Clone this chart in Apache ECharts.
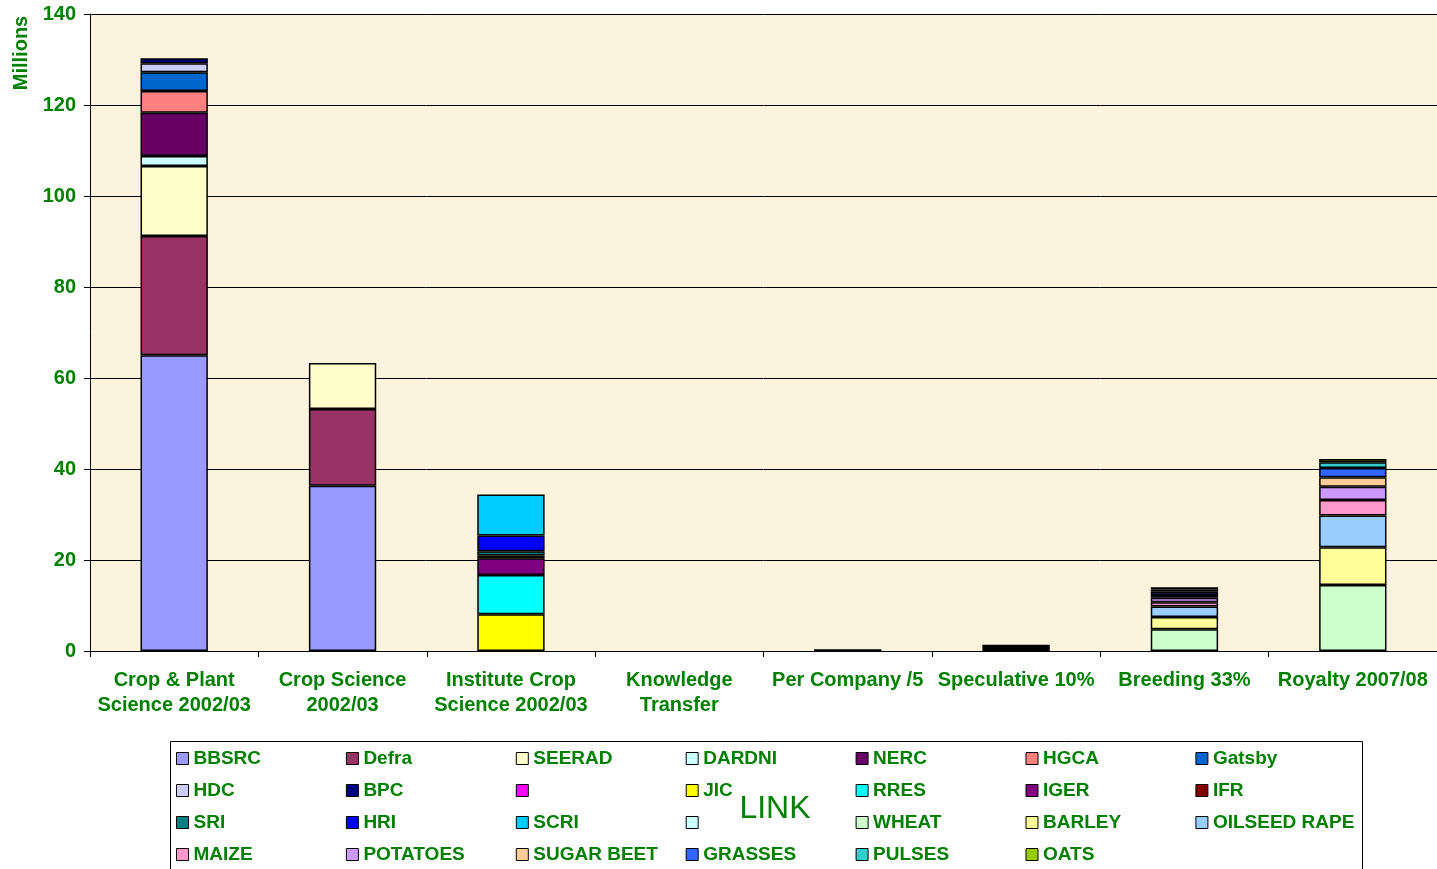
<!DOCTYPE html>
<html><head><meta charset="utf-8">
<script src="https://cdn.jsdelivr.net/npm/echarts@6/dist/echarts.min.js"></script>
<style>html,body{margin:0;padding:0;background:#fff}#c{width:1437px;height:869px}</style>
</head><body><div id="c"></div>
<script>
const categories = ['Crop & Plant\nScience 2002/03','Crop Science\n2002/03','Institute Crop\nScience 2002/03','Knowledge\nTransfer','Per Company /5','Speculative 10%','Breeding 33%','Royalty 2007/08'];
const yTicks = [0,20,40,60,80,100,120,140];
// funders (categories 1-3)
const BBSRC   = [65.0, 36.3, null, null, null, null, null, null];
const Defra   = [26.2, 16.9, null, null, null, null, null, null];
const SEERAD  = [15.4, 10.1, null, null, null, null, null, null];
const DARDNI  = [2.2, null, null, null, null, null, null, null];
const NERC    = [9.5, null, null, null, null, null, null, null];
const HGCA    = [4.8, null, null, null, null, null, null, null];
const Gatsby  = [4.1, null, null, null, null, null, null, null];
const HDC     = [2.0, null, null, null, null, null, null, null];
const BPC     = [1.1, null, null, null, null, null, null, null];
const BLANK1  = [null, null, null, null, null, null, null, null];
const JIC     = [null, null, 8.1, null, null, null, null, null];
const RRES    = [null, null, 8.6, null, null, null, null, null];
const IGER    = [null, null, 3.7, null, null, null, null, null];
const IFR     = [null, null, 0.6, null, null, null, null, null];
const SRI     = [null, null, 0.9, null, null, null, null, null];
const HRI     = [null, null, 3.5, null, null, null, null, null];
const SCRI    = [null, null, 9.0, null, null, null, null, null];
const BLANK2  = [null, null, null, null, null, null, null, null];
const OTHER   = [null, null, null, null, 0.4, 1.4, null, null];
// crops (categories 7-8)
const WHEAT   = [null, null, null, null, null, null, 4.8, 14.5];
const BARLEY  = [null, null, null, null, null, null, 2.7, 8.3];
const OILSEED = [null, null, null, null, null, null, 2.3, 7.0];
const MAIZE   = [null, null, null, null, null, null, 0.9, 3.4];
const POTATOES= [null, null, null, null, null, null, 1.0, 2.9];
const SUGARBEET=[null, null, null, null, null, null, 0.6, 2.1];
const GRASSES = [null, null, null, null, null, null, 0.7, 2.0];
const PULSES  = [null, null, null, null, null, null, 0.5, 1.3];
const OATS    = [null, null, null, null, null, null, 0.5, 0.7];

const seriesDefs = [
  ['BBSRC', BBSRC, '#9999FF'], ['Defra', Defra, '#993366'], ['SEERAD', SEERAD, '#FFFFCC'],
  ['DARDNI', DARDNI, '#CCFFFF'], ['NERC', NERC, '#660066'], ['HGCA', HGCA, '#FF8080'],
  ['Gatsby', Gatsby, '#0066CC'], ['HDC', HDC, '#CCCCFF'], ['BPC', BPC, '#000080'],
  ['_b1', BLANK1, '#FF00FF'], ['JIC', JIC, '#FFFF00'], ['RRES', RRES, '#00FFFF'],
  ['IGER', IGER, '#800080'], ['IFR', IFR, '#800000'], ['SRI', SRI, '#008080'],
  ['HRI', HRI, '#0000FF'], ['SCRI', SCRI, '#00CCFF'], ['_b2', BLANK2, '#CCFFFF'],
  ['_other', OTHER, '#000000'],
  ['WHEAT', WHEAT, '#CCFFCC'], ['BARLEY', BARLEY, '#FFFF99'], ['OILSEED RAPE', OILSEED, '#99CCFF'],
  ['MAIZE', MAIZE, '#FF99CC'], ['POTATOES', POTATOES, '#CC99FF'], ['SUGAR BEET', SUGARBEET, '#FFCC99'],
  ['GRASSES', GRASSES, '#3366FF'], ['PULSES', PULSES, '#33CCCC'], ['OATS', OATS, '#99CC00']
];
const legendRows = [
  ['BBSRC','Defra','SEERAD','DARDNI','NERC','HGCA','Gatsby'],
  ['HDC','BPC','_b1','JIC','RRES','IGER','IFR'],
  ['SRI','HRI','SCRI','_b2','WHEAT','BARLEY','OILSEED RAPE'],
  ['MAIZE','POTATOES','SUGAR BEET','GRASSES','PULSES','OATS']
];
const GREEN = '#008000';
const FONT = '"Liberation Sans", Arial, sans-serif';

const chart = echarts.init(document.getElementById('c'));
chart.setOption({
  animation: false,
  backgroundColor: '#ffffff',
  grid: { left: 90, right: 0, top: 14, bottom: 218, show: true, backgroundColor: '#FCF3DD', borderWidth: 0 },
  xAxis: {
    type: 'category', data: categories,
    axisLine: { lineStyle: { color: '#000', width: 1 } },
    axisTick: { show: true, length: 6, lineStyle: { color: '#000' } },
    axisLabel: { interval: 0, color: GREEN, fontSize: 20, fontWeight: 'bold', fontFamily: FONT, lineHeight: 25, margin: 17 }
  },
  yAxis: {
    type: 'value', min: 0, max: 140, interval: 20,
    axisLine: { show: true, lineStyle: { color: '#000', width: 1 } },
    axisTick: { show: true, length: 6, lineStyle: { color: '#000' } },
    splitLine: { lineStyle: { color: '#000', width: 1 } },
    axisLabel: { color: GREEN, fontSize: 20, fontWeight: 'bold', fontFamily: FONT, margin: 14,
      formatter: v => yTicks.includes(v) ? String(v) : '' }
  },
  legend: legendRows.map((row, i) => ({
    data: row, left: 176, top: 749 + i * 32, orient: 'horizontal', padding: 0,
    itemWidth: 12, itemHeight: 12, itemGap: 0.4, selectedMode: false, icon: 'rect',
    formatter: n => '{a|' + (n.startsWith('_') ? ' ' : n) + '}',
    textStyle: { rich: { a: { color: GREEN, fontSize: 19, fontWeight: 'bold', fontFamily: FONT, width: 152, lineHeight: 20 } } },
    itemStyle: { borderColor: '#000', borderWidth: 1 }
  })),
  graphic: [
    { type: 'rect', z: 0, shape: { x: 170.5, y: 741.5, width: 1192, height: 140 }, style: { fill: '#fff', stroke: '#000', lineWidth: 1 } },
    { type: 'text', z: 10, x: 21, y: 53, rotation: Math.PI / 2,
      style: { text: 'Millions', fill: GREEN, font: 'bold 20px "Liberation Sans", Arial, sans-serif', align: 'center', verticalAlign: 'middle' } },
    { type: 'text', z: 10, x: 775, y: 809,
      style: { text: 'LINK', fill: GREEN, font: '32px "Liberation Sans", Arial, sans-serif', align: 'center', verticalAlign: 'middle' } }
  ],
  series: seriesDefs.map(([name, data, color]) => ({
    name, type: 'bar', stack: 'total', data, barCategoryGap: '60%',
    itemStyle: { color, borderColor: '#000', borderWidth: 1.5 }
  }))
});
</script></body></html>
